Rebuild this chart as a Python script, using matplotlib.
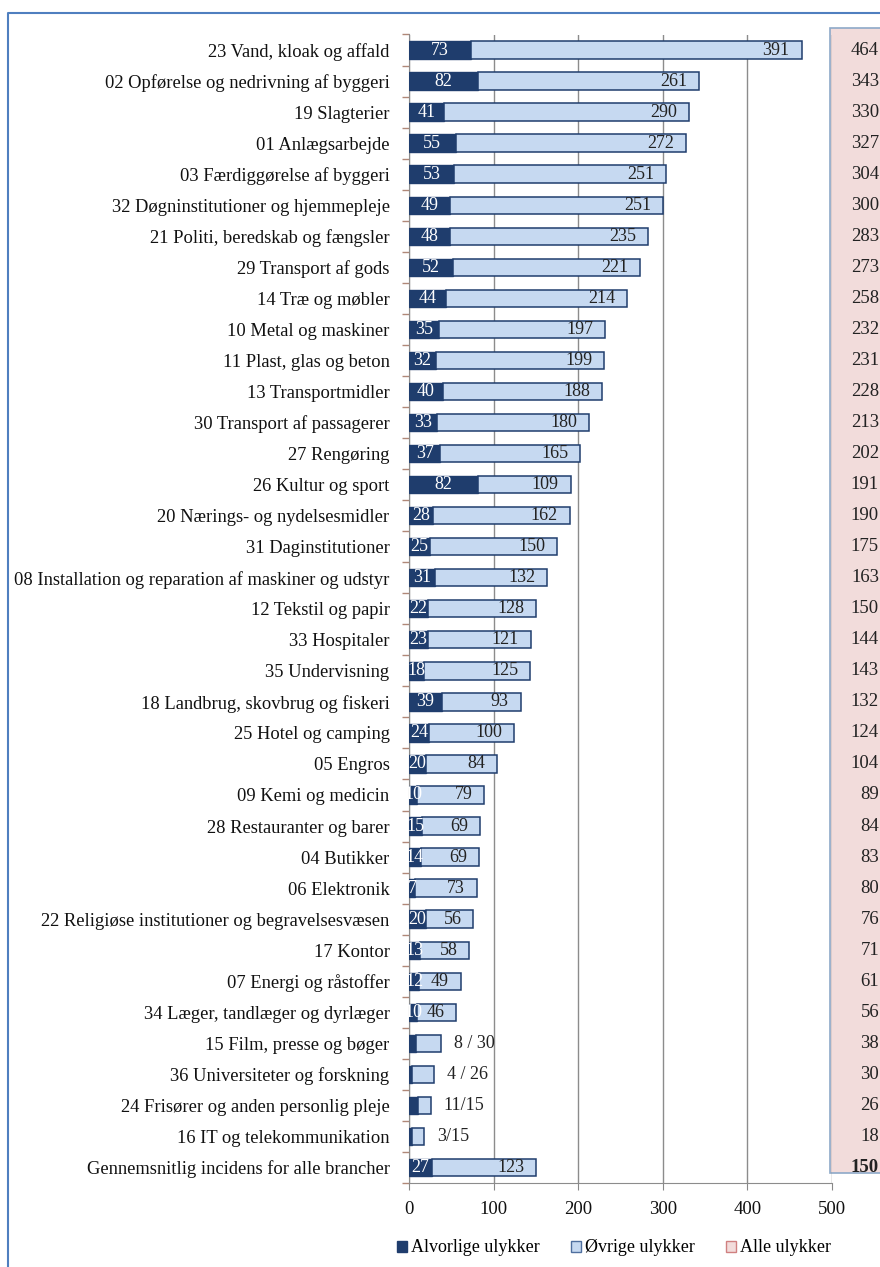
import matplotlib
matplotlib.use("Agg")
import matplotlib.pyplot as plt
from matplotlib.patches import Rectangle, Patch
from matplotlib.lines import Line2D
from matplotlib.transforms import blended_transform_factory

categories = [
    "23 Vand, kloak og affald",
    "02 Opførelse og nedrivning af byggeri",
    "19 Slagterier",
    "01 Anlægsarbejde",
    "03 Færdiggørelse af byggeri",
    "32 Døgninstitutioner og hjemmepleje",
    "21 Politi, beredskab og fængsler",
    "29 Transport af gods",
    "14 Træ og møbler",
    "10 Metal og maskiner",
    "11 Plast, glas og beton",
    "13 Transportmidler",
    "30 Transport af passagerer",
    "27 Rengøring",
    "26 Kultur og sport",
    "20 Nærings- og nydelsesmidler",
    "31 Daginstitutioner",
    "08 Installation og reparation af maskiner og udstyr",
    "12 Tekstil og papir",
    "33 Hospitaler",
    "35 Undervisning",
    "18 Landbrug, skovbrug og fiskeri",
    "25 Hotel og camping",
    "05 Engros",
    "09 Kemi og medicin",
    "28 Restauranter og barer",
    "04 Butikker",
    "06 Elektronik",
    "22 Religiøse institutioner og begravelsesvæsen",
    "17 Kontor",
    "07 Energi og råstoffer",
    "34 Læger, tandlæger og dyrlæger",
    "15 Film, presse og bøger",
    "36 Universiteter og forskning",
    "24 Frisører og anden personlig pleje",
    "16 IT og telekommunikation",
    "Gennemsnitlig incidens for alle brancher",
]
severe = [73, 82, 41, 55, 53, 49, 48, 52, 44, 35, 32, 40, 33, 37, 82, 28, 25, 31,
          22, 23, 18, 39, 24, 20, 10, 15, 14, 7, 20, 13, 12, 10, 8, 4, 11, 3, 27]
other = [391, 261, 290, 272, 251, 251, 235, 221, 214, 197, 199, 188, 180, 165, 109,
         162, 150, 132, 128, 121, 125, 93, 100, 84, 79, 69, 69, 73, 56, 58, 49, 46,
         30, 26, 15, 15, 123]
totals = [464, 343, 330, 327, 304, 300, 283, 273, 258, 232, 231, 228, 213, 202, 191,
          190, 175, 163, 150, 144, 143, 132, 124, 104, 89, 84, 83, 80, 76, 71, 61, 56,
          38, 30, 26, 18, 150]
outside_labels = {32: "8 / 30", 33: "4 / 26", 34: "11/15", 35: "3/15"}
xticks = [0, 100, 200, 300, 400, 500]
legend_labels = ["Alvorlige ulykker", "Øvrige ulykker", "Alle ulykker"]

DARK = "#1f3d6d"
LIGHT = "#c6d9f1"
PINK = "#f2dcdb"
SERIF = ["Liberation Serif", "DejaVu Serif"]
plt.rcParams["font.family"] = SERIF

W, H = 880, 1267
fig = plt.figure(figsize=(W / 100, H / 100), dpi=100)

def fx(px):
    return px / W

def fy(py):
    return 1 - py / H

ax_left, ax_right, ax_top, ax_bot = 409, 832, 34.5, 1183
ax = fig.add_axes([fx(ax_left), fy(ax_bot), fx(ax_right - ax_left), (ax_bot - ax_top) / H])
ax.patch.set_visible(False)

n = len(categories)
ypos = list(range(n))
bh = 0.56
bars_d = ax.barh(ypos, severe, height=bh, color=DARK, edgecolor=DARK, linewidth=1.0, zorder=3)
bars_o = ax.barh(ypos, other, left=severe, height=bh, color=LIGHT, edgecolor=DARK,
                 linewidth=1.1, zorder=3)
ax.set_xlim(0, 500)
ax.set_ylim(n - 0.5, -0.5)

VAL_FS = 13
for i in range(n):
    if i in outside_labels:
        ax.annotate(outside_labels[i], (severe[i] + other[i], i), xytext=(9, 0),
                    textcoords="offset points", ha="left", va="center",
                    fontsize=VAL_FS, color="#222222", zorder=5)
        continue
    t = ax.text(severe[i] / 2, i, str(severe[i]), ha="center", va="center",
                fontsize=VAL_FS, color="white", zorder=5)
    t.set_clip_path(bars_d.patches[i])
    ax.annotate(str(other[i]), (severe[i] + other[i], i), xytext=(-8.5, 0),
                textcoords="offset points", ha="right", va="center",
                fontsize=VAL_FS, color="#222222", zorder=5)

ax.set_yticks(ypos)
ax.set_yticklabels(categories, fontsize=13.3, color="#111111")
ax.tick_params(axis="y", which="major", length=0, pad=14)
ax.set_yticks([i + 0.5 for i in range(-1, n)], minor=True)
ax.tick_params(axis="y", which="minor", length=5, color="#b08878", width=1)

ax.set_xticks(xticks)
ax.set_xticklabels([str(v) for v in xticks], fontsize=13.5, color="#111111")
ax.tick_params(axis="x", length=5, color="#888888", pad=8)

ax.grid(axis="x", color="#8c8c8c", linewidth=1.0, zorder=0)
for s in ["top", "right"]:
    ax.spines[s].set_visible(False)
ax.spines["left"].set_color("#8c8c8c")
ax.spines["bottom"].set_color("#8c8c8c")

# pink totals box
fig.patches.append(Rectangle((fx(830), fy(1173)), fx(60), (1173 - 28) / H,
                             transform=fig.transFigure, facecolor=PINK,
                             edgecolor="#8ea9c8", linewidth=1.2, zorder=-1))
tr = blended_transform_factory(fig.transFigure, ax.transData)
for i, v in enumerate(totals):
    ax.text(fx(879), i, str(v), transform=tr, ha="right", va="center",
            fontsize=13.5, color="#222222", clip_on=False,
            fontweight="bold" if i == n - 1 else "normal")

# outer frame
fig.lines.append(Line2D([fx(8), fx(8), 1.01], [-0.01, fy(13), fy(13)],
                        transform=fig.transFigure, color="#4f7fbf", linewidth=1.5))

handles = [Patch(facecolor=DARK, edgecolor=DARK),
           Patch(facecolor=LIGHT, edgecolor="#4f6f9f"),
           Patch(facecolor=PINK, edgecolor="#d08080")]
fig.legend(handles, legend_labels, loc="center", bbox_to_anchor=(fx(614), fy(1248)),
           ncol=3, frameon=False, fontsize=13, handlelength=0.55, handleheight=0.55,
           handletextpad=0.25, columnspacing=1.7)

fig.savefig("out.png", dpi=100)
